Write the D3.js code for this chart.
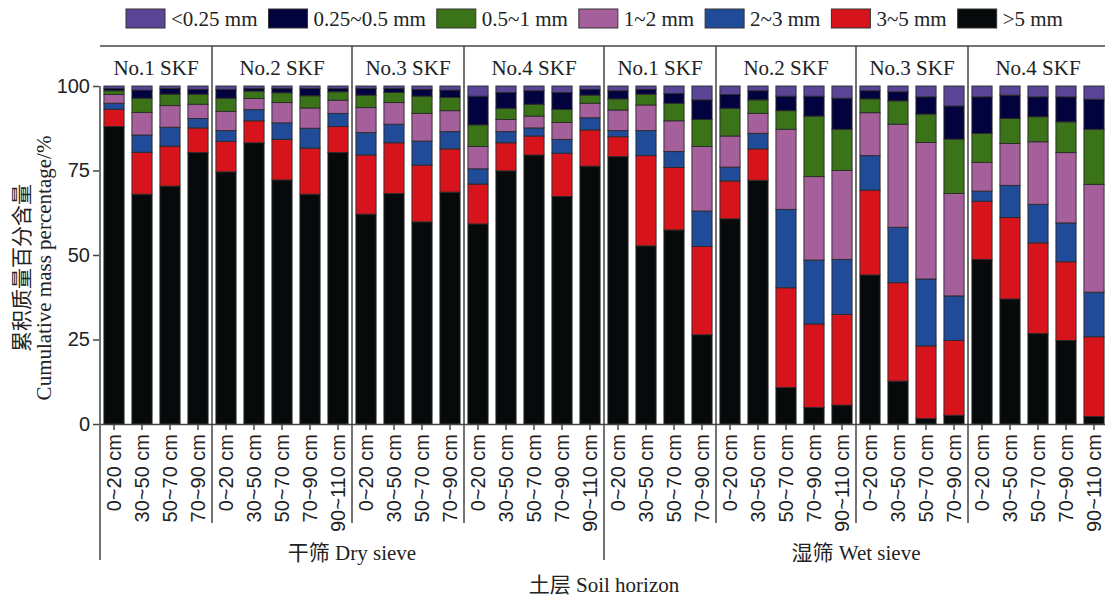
<!DOCTYPE html>
<html>
<head>
<meta charset="utf-8">
<script src="https://cdn.jsdelivr.net/npm/d3@7"></script>
<style>
  body { margin: 0; background: #fff; }
  svg { font-family: "Liberation Serif", "Times New Roman", "Noto Sans CJK SC", serif; }
</style>
</head>
<body>
<div id="container"></div>
<script>
const { d3 } = window;

const SIEVES = ['干筛 Dry sieve', '湿筛 Wet sieve'];
const SITES = ['No.1 SKF', 'No.2 SKF', 'No.3 SKF', 'No.4 SKF'];
const DEPTHS_SHORT = ['0~20 cm', '30~50 cm', '50~70 cm', '70~90 cm'];
const DEPTHS_LONG = ['0~20 cm', '30~50 cm', '50~70 cm', '70~90 cm', '90~110 cm'];
const SITE_DEPTHS = [DEPTHS_SHORT, DEPTHS_LONG, DEPTHS_SHORT, DEPTHS_LONG];
const SIZE_CLASSES = ['<0.25 mm', '0.25~0.5 mm', '0.5~1 mm', '1~2 mm', '2~3 mm', '3~5 mm', '>5 mm'];
const COLORS = ['#5b4597', '#02023f', '#3a7318', '#a55f9b', '#1f4b99', '#d7141c', '#060a0a'];
const Y_TICKS = [0, 25, 50, 75, 100];

// mass percentage of each size class, one value per bar:
// dry No.1..No.4, then wet No.1..No.4
const GT5 = [88.0, 68.0, 70.4, 80.3, 74.6, 83.2, 72.2, 68.0, 80.3, 62.1, 68.2, 59.8, 68.6, 59.2, 74.9, 79.6, 67.3, 76.3,
  79.1, 52.7, 57.4, 26.4, 60.7, 72.1, 10.8, 4.9, 5.6, 44.1, 12.7, 1.6, 2.6, 48.7, 37.0, 26.8, 24.7, 2.2];
const S3_5 = [5.1, 12.4, 11.8, 7.3, 9.0, 6.5, 12.0, 13.6, 7.7, 17.5, 15.0, 16.8, 12.8, 11.8, 8.3, 5.6, 12.8, 10.7,
  5.9, 26.7, 18.5, 26.1, 11.2, 9.3, 29.5, 24.7, 26.8, 25.1, 29.1, 21.5, 22.1, 17.2, 24.1, 26.8, 23.3, 23.6];
const S2_3 = [1.8, 5.1, 5.6, 2.8, 3.2, 3.3, 4.9, 5.9, 3.9, 6.6, 5.5, 7.1, 5.1, 4.5, 3.3, 2.4, 4.1, 3.6,
  1.8, 7.4, 4.7, 10.5, 4.1, 4.6, 23.2, 18.9, 16.3, 10.2, 16.4, 19.8, 13.2, 3.0, 9.5, 11.4, 11.5, 13.2];
const S1_2 = [2.6, 6.7, 6.4, 4.2, 5.7, 3.3, 6.0, 6.0, 3.9, 7.4, 6.4, 8.2, 6.2, 6.6, 3.6, 3.5, 5.0, 4.3,
  6.1, 7.6, 9.1, 19.1, 9.2, 5.9, 23.7, 24.7, 26.3, 12.7, 30.5, 40.4, 30.3, 8.5, 12.4, 18.5, 20.8, 31.9];
const S05_1 = [1.1, 4.2, 3.4, 3.0, 3.9, 2.2, 2.9, 3.6, 2.5, 3.7, 3.0, 5.1, 3.9, 6.4, 3.3, 3.5, 3.9, 2.4,
  3.3, 3.2, 5.2, 8.0, 8.2, 4.0, 5.5, 17.9, 12.2, 4.1, 6.9, 8.4, 16.1, 8.6, 7.4, 7.4, 9.1, 16.3];
const S025_05 = [0.7, 2.4, 1.7, 1.4, 2.6, 0.8, 1.3, 2.2, 1.0, 2.0, 1.2, 2.0, 2.2, 8.5, 4.7, 4.0, 5.0, 1.7,
  2.4, 1.4, 2.9, 5.8, 4.1, 2.7, 4.3, 5.9, 9.2, 2.4, 2.7, 5.1, 9.8, 10.8, 6.9, 5.9, 7.4, 8.9];
const LT025 = [0.7, 1.2, 0.7, 1.0, 1.0, 0.7, 0.7, 0.7, 0.7, 0.7, 0.7, 1.0, 1.2, 3.0, 1.9, 1.4, 1.9, 1.0,
  1.4, 1.0, 2.2, 4.1, 2.5, 1.4, 3.0, 3.0, 3.6, 1.4, 1.7, 3.2, 5.9, 3.2, 2.7, 3.2, 3.2, 3.9];
const SERIES = [LT025, S025_05, S05_1, S1_2, S2_3, S3_5, GT5];

const W = 1105;
const H = 601;
const LINE = '#444';
const FONT = 21;

function buildRows() {
  const rows = [];
  SIEVES.forEach((sieve, s) => {
    SITES.forEach((site, i) => {
      SITE_DEPTHS[i].forEach((depth) => {
        const row = { key: `${s}|${i}|${depth}`, sieve: s, site: i, depth };
        SIZE_CLASSES.forEach((c, k) => { row[c] = SERIES[k][rows.length]; });
        rows.push(row);
      });
    });
  });
  return rows;
}

function draw() {
  const rows = buildRows();
  const svg = d3.select('#container').append('svg')
    .attr('width', W)
    .attr('height', H);

  const x = d3.scaleBand()
    .domain(rows.map((r) => r.key))
    .range([100, 1108])
    .paddingInner(0.28)
    .paddingOuter(0.14);
  const y = d3.scaleLinear().domain([0, 100]).range([424, 86]);
  const gap = (x.step() - x.bandwidth()) / 2;
  const leftOf = (key) => x(key) - gap;

  // bars, stacked from >5 mm at the bottom
  const stack = d3.stack().keys(SIZE_CLASSES.slice().reverse());
  const layers = stack(rows);
  const colorOf = d3.scaleOrdinal().domain(SIZE_CLASSES).range(COLORS);

  svg.append('g').selectAll('g')
    .data(layers)
    .join('g')
    .attr('fill', (d) => colorOf(d.key))
    .selectAll('rect')
    .data((d) => d)
    .join('rect')
    .attr('x', (d) => x(d.data.key))
    .attr('width', x.bandwidth())
    .attr('y', (d) => y(d[1]))
    .attr('height', (d) => y(d[0]) - y(d[1]))
    .attr('stroke', '#2a2a2a')
    .attr('stroke-width', 0.9);

  // y axis
  const yAxis = svg.append('g')
    .attr('transform', 'translate(99,0)')
    .call(d3.axisLeft(y).tickValues(Y_TICKS).tickSize(6).tickSizeOuter(0).tickPadding(3));
  yAxis.select('.domain').remove();
  yAxis.selectAll('line').attr('stroke', LINE).attr('stroke-width', 1.5);
  yAxis.selectAll('text').attr('font-size', 20).attr('fill', '#222').attr('font-family', null);

  svg.append('line')
    .attr('x1', 100).attr('x2', 100)
    .attr('y1', y(100)).attr('y2', 560)
    .attr('stroke', LINE).attr('stroke-width', 1.5);

  // x axis with rotated depth labels
  const xAxis = svg.append('g')
    .attr('transform', `translate(0,${y(0)})`)
    .call(d3.axisBottom(x).tickFormat((k) => k.split('|')[2]).tickSize(6).tickSizeOuter(0));
  xAxis.select('.domain').attr('stroke', LINE).attr('stroke-width', 1.5)
    .attr('d', `M100,0.5H${W}`);
  xAxis.selectAll('line').attr('stroke', LINE).attr('stroke-width', 1.5);
  xAxis.selectAll('text')
    .attr('font-size', 20)
    .attr('font-family', null)
    .attr('fill', '#222')
    .attr('text-anchor', 'end')
    .attr('transform', 'rotate(-90)')
    .attr('x', -10)
    .attr('y', 0)
    .attr('dy', '0.35em');

  // header line and group separators
  svg.append('line')
    .attr('x1', 100).attr('x2', W)
    .attr('y1', 46).attr('y2', 46)
    .attr('stroke', LINE).attr('stroke-width', 1.5);

  const groups = d3.groups(rows, (r) => `${r.sieve}|${r.site}`);
  groups.forEach(([, g]) => {
    const first = g[0];
    const last = g[g.length - 1];
    const x0 = leftOf(first.key);
    const x1 = x(last.key) + x.bandwidth() + gap;
    if (!(first.sieve === 0 && first.site === 0)) {
      svg.append('line')
        .attr('x1', x0).attr('x2', x0)
        .attr('y1', 46).attr('y2', first.site === 0 ? 560 : 523)
        .attr('stroke', LINE).attr('stroke-width', 1.5);
    }
    svg.append('text')
      .attr('x', (x0 + x1) / 2)
      .attr('y', 75)
      .attr('text-anchor', 'middle')
      .attr('font-size', FONT)
      .attr('fill', '#222')
      .text(SITES[first.site]);
  });

  // sieve labels
  SIEVES.forEach((label, s) => {
    const keys = rows.filter((r) => r.sieve === s).map((r) => r.key);
    const x0 = leftOf(keys[0]);
    const x1 = x(keys[keys.length - 1]) + x.bandwidth() + gap;
    svg.append('text')
      .attr('x', (x0 + x1) / 2)
      .attr('y', 560)
      .attr('text-anchor', 'middle')
      .attr('font-size', FONT)
      .attr('fill', '#222')
      .text(label);
  });

  svg.append('text')
    .attr('x', leftOf(rows.find((r) => r.sieve === 1).key))
    .attr('y', 592)
    .attr('text-anchor', 'middle')
    .attr('font-size', FONT)
    .attr('fill', '#222')
    .text('土层 Soil horizon');

  // y title
  const yTitle = svg.append('text')
    .attr('transform', `translate(0,${(y(0) + y(100)) / 2 + 13}) rotate(-90)`)
    .attr('text-anchor', 'middle')
    .attr('font-size', FONT)
    .attr('fill', '#222');
  yTitle.append('tspan').attr('x', 0).attr('y', 29).text('累积质量百分含量');
  yTitle.append('tspan').attr('x', 0).attr('y', 51).text('Cumulative mass percentage/%');

  // legend
  const legend = svg.append('g').attr('transform', 'translate(126,9)');
  let lx = 0;
  SIZE_CLASSES.forEach((c) => {
    const item = legend.append('g').attr('transform', `translate(${lx},0)`);
    item.append('rect')
      .attr('width', 39).attr('height', 19)
      .attr('fill', colorOf(c))
      .attr('stroke', '#333').attr('stroke-width', 1);
    const t = item.append('text')
      .attr('x', 45).attr('y', 17)
      .attr('font-size', FONT)
      .attr('fill', '#222')
      .text(c);
    lx += 45 + t.node().getComputedTextLength() + 11;
  });
}

draw();
</script>
</body>
</html>
